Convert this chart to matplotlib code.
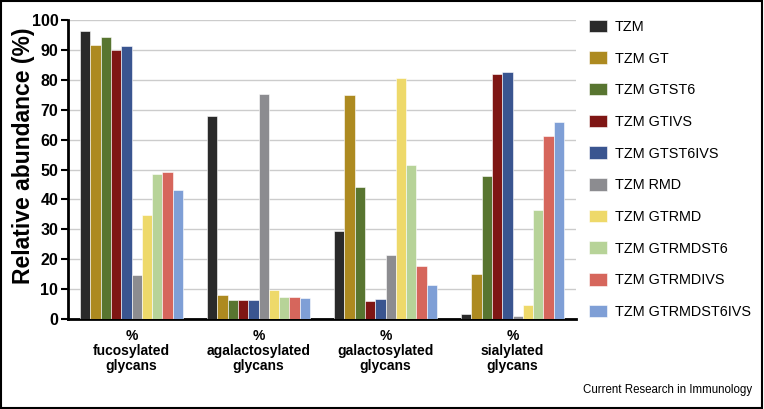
import numpy as np
import matplotlib
matplotlib.use("Agg")
import matplotlib.pyplot as plt
from matplotlib.patches import Rectangle

plt.rcParams["font.family"] = ["Liberation Sans", "DejaVu Sans"]

# categories on the x axis
groups = ["%\nfucosylated\nglycans", "%\nagalactosylated\nglycans",
          "%\ngalactosylated\nglycans", "%\nsialylated\nglycans"]

# series (one per strain), values per group
series = ["TZM", "TZM GT", "TZM GTST6", "TZM GTIVS", "TZM GTST6IVS",
          "TZM RMD", "TZM GTRMD", "TZM GTRMDST6", "TZM GTRMDIVS", "TZM GTRMDST6IVS"]
tzm = [96.4, 68.0, 29.4, 1.7]
tzm_gt = [91.6, 8.1, 74.8, 14.9]
tzm_gtst6 = [94.4, 6.2, 44.2, 47.8]
tzm_gtivs = [90.0, 6.4, 6.1, 82.1]
tzm_gtst6ivs = [91.4, 6.5, 6.8, 82.5]
tzm_rmd = [14.8, 75.3, 21.5, 1.1]
tzm_gtrmd = [34.8, 9.8, 80.7, 4.8]
tzm_gtrmdst6 = [48.4, 7.2, 51.6, 36.4]
tzm_gtrmdivs = [49.1, 7.2, 17.9, 61.3]
tzm_gtrmdst6ivs = [43.0, 7.1, 11.5, 66.0]
values = [tzm, tzm_gt, tzm_gtst6, tzm_gtivs, tzm_gtst6ivs,
          tzm_rmd, tzm_gtrmd, tzm_gtrmdst6, tzm_gtrmdivs, tzm_gtrmdst6ivs]

colors = ["#2a2a2a", "#ad8a20", "#587530", "#7f1614", "#3a5590",
          "#8c8c90", "#eed96a", "#b7d398", "#d6665c", "#7f9fd6"]

fig = plt.figure(figsize=(7.64, 4.09), dpi=100, facecolor="white")
ax = fig.add_axes([0.089, 0.22, 0.665, 0.731])

x = np.arange(len(groups))
w = 0.081
n = len(series)
for i, (name, vals, c) in enumerate(zip(series, values, colors)):
    ax.bar(x + (i - (n - 1) / 2) * w, vals, width=w, color=c,
           edgecolor="white", linewidth=0.4, label=name, zorder=3)

ax.set_xlim(-0.5, 3.5)
ax.set_ylim(0, 100)
ax.set_yticks(np.arange(0, 101, 10))
ax.yaxis.grid(True, color="#cccccc", linewidth=1.0, zorder=0)
ax.set_axisbelow(True)

ax.set_xticks(x)
ax.set_xticklabels(groups, fontsize=10, fontweight="bold", linespacing=1.1)
ax.tick_params(axis="x", length=0, pad=7)
ax.tick_params(axis="y", length=5, width=1.5, labelsize=11.5, pad=2)
for lab in ax.get_yticklabels():
    lab.set_fontweight("bold")

ax.set_ylabel("Relative abundance (%)", fontsize=16.5, fontweight="bold")
ax.yaxis.set_label_coords(-0.064, 0.545)

for s in ["top", "right"]:
    ax.spines[s].set_visible(False)
for s in ["left", "bottom"]:
    ax.spines[s].set_linewidth(2)

leg = fig.legend(loc="upper left", bbox_to_anchor=(0.763, 0.966), frameon=False,
                 fontsize=10.4, handlelength=1.3, handleheight=0.95,
                 labelspacing=1.21, handletextpad=0.5, borderaxespad=0)

fig.text(0.984, 0.032, "Current Research in Immunology", ha="right", va="bottom",
         fontsize=8.3)

# border round the whole figure
fig.patches.append(Rectangle((0.001, 0.002), 0.997, 0.995, transform=fig.transFigure,
                             fill=False, edgecolor="black", linewidth=1.5))

fig.savefig("out.png", dpi=100)
